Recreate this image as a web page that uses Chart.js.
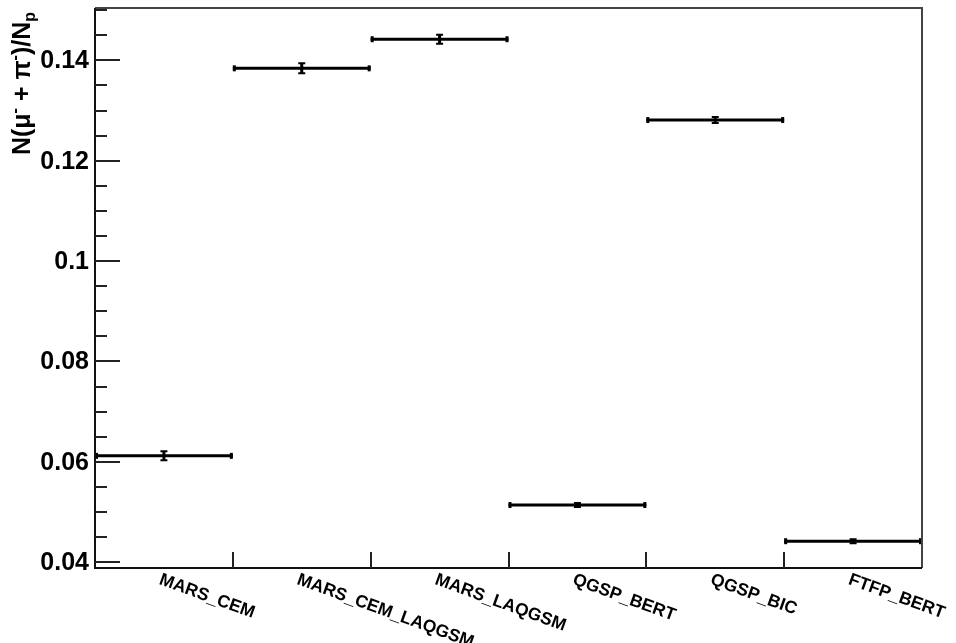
<!DOCTYPE html>
<html>
<head>
<meta charset="utf-8">
<script src="https://cdn.jsdelivr.net/npm/chart.js@4.4.1/dist/chart.umd.min.js"></script>
<style>
html,body{margin:0;padding:0;background:#fff;}
#wrap{width:956px;height:643px;}
</style>
</head>
<body>
<div id="wrap"><canvas id="c" width="956" height="643"></canvas></div>
<script>
const categories = ["MARS_CEM","MARS_CEM_LAQGSM","MARS_LAQGSM","QGSP_BERT","QGSP_BIC","FTFP_BERT"];
const values = [0.0612, 0.1384, 0.1442, 0.0514, 0.1281, 0.0442];
const errors = [0.0007, 0.0008, 0.0007, 0.0002, 0.0004, 0.0002];
const yTickValues = [0.04, 0.06, 0.08, 0.1, 0.12, 0.14];
const yMin = 0.03886, yMax = 0.15042;
const yMinorDivisions = 4;

const FONT = "'Liberation Sans', Arial, Helvetica, sans-serif";

const histPlugin = {
  id: 'hist',
  afterDatasetsDraw(chart) {
    const ctx = chart.ctx;
    const xs = chart.scales.x, ys = chart.scales.y;
    ctx.save();
    ctx.fillStyle = '#000';
    ctx.strokeStyle = '#000';
    values.forEach((v, i) => {
      const x0 = xs.getPixelForValue(i), x1 = xs.getPixelForValue(i + 1);
      const xc = xs.getPixelForValue(i + 0.5);
      const y = ys.getPixelForValue(v);
      ctx.lineWidth = 3;
      ctx.beginPath();
      ctx.moveTo(x0, y); ctx.lineTo(x1, y); ctx.stroke();
      ctx.fillRect(x0, y - 3, 3, 6);
      ctx.fillRect(x1 - 3, y - 3, 3, 6);
      const yl = ys.getPixelForValue(v - errors[i]);
      const yh = ys.getPixelForValue(v + errors[i]);
      ctx.lineWidth = 3;
      ctx.beginPath();
      ctx.moveTo(xc, yh - 1); ctx.lineTo(xc, yl + 1); ctx.stroke();
      ctx.lineWidth = 2;
      ctx.beginPath();
      ctx.moveTo(xc - 3.5, yh - 1); ctx.lineTo(xc + 3.5, yh - 1);
      ctx.moveTo(xc - 3.5, yl + 1); ctx.lineTo(xc + 3.5, yl + 1);
      ctx.stroke();
    });
    ctx.restore();
  },
  afterDraw(chart) {
    const ctx = chart.ctx;
    const xs = chart.scales.x, ys = chart.scales.y;
    const a = chart.chartArea;
    ctx.save();
    // frame
    ctx.lineWidth = 2;
    ctx.strokeStyle = '#444';
    ctx.beginPath();
    ctx.moveTo(a.left, a.top); ctx.lineTo(a.right, a.top); ctx.lineTo(a.right, a.bottom);
    ctx.stroke();
    ctx.strokeStyle = '#111';
    ctx.beginPath();
    ctx.moveTo(a.left, a.top); ctx.lineTo(a.left, a.bottom); ctx.lineTo(a.right, a.bottom);
    ctx.stroke();
    // y ticks (inside) and labels
    ctx.lineWidth = 2;
    ctx.strokeStyle = '#222';
    const step = yTickValues[1] - yTickValues[0];
    const minor = step / yMinorDivisions;
    const start = yTickValues[0] - Math.ceil((yTickValues[0] - yMin) / minor) * minor;
    for (let k = 0; ; k++) {
      const v = start + k * minor;
      if (v > yMax + 1e-9) break;
      if (v < yMin - 1e-9) continue;
      const isMajor = yTickValues.some(t => Math.abs(t - v) < 1e-7);
      const y = Math.round(ys.getPixelForValue(v));
      ctx.beginPath();
      ctx.moveTo(a.left, y);
      ctx.lineTo(a.left + (isMajor ? 25 : 12), y);
      ctx.stroke();
    }
    ctx.fillStyle = '#000';
    ctx.font = "bold 25px " + FONT;
    ctx.textAlign = 'right';
    ctx.textBaseline = 'middle';
    yTickValues.forEach(v => {
      ctx.fillText(String(+v.toFixed(3)), a.left - 6, ys.getPixelForValue(v) + 1);
    });
    // x ticks at bin edges
    for (let i = 1; i < categories.length; i++) {
      const x = Math.round(xs.getPixelForValue(i));
      ctx.beginPath();
      ctx.moveTo(x, a.bottom);
      ctx.lineTo(x, a.bottom - 16);
      ctx.stroke();
    }
    // x category labels, rotated
    ctx.font = "bold 17.5px " + FONT;
    ctx.textAlign = 'left';
    ctx.textBaseline = 'top';
    categories.forEach((c, i) => {
      const xc = xs.getPixelForValue(i + 0.5);
      ctx.save();
      ctx.translate(xc - 1, a.bottom + 3);
      ctx.rotate(20 * Math.PI / 180);
      ctx.fillText(c, 0, 0);
      ctx.restore();
    });
    // y axis title with super/subscripts
    const main = "bold 25px " + FONT, small = "bold 16px " + FONT;
    const segs = [
      {t: 'N(\u03bc', f: main, dy: 0},
      {t: '-', f: small, dy: -10},
      {t: ' + \u03c0', f: main, dy: 0},
      {t: '-', f: small, dy: -10},
      {t: ')/N', f: main, dy: 0},
      {t: 'p', f: small, dy: 5}
    ];
    let total = 0;
    segs.forEach(s => { ctx.font = s.f; s.w = ctx.measureText(s.t).width; total += s.w; });
    ctx.translate(30, 0);
    ctx.rotate(-Math.PI / 2);
    ctx.textBaseline = 'alphabetic';
    ctx.textAlign = 'left';
    let xpos = -12 - total;
    segs.forEach(s => {
      ctx.font = s.f;
      ctx.fillText(s.t, xpos, s.dy);
      xpos += s.w;
    });
    ctx.restore();
  }
};

new Chart(document.getElementById('c'), {
  type: 'scatter',
  data: {
    datasets: [{
      data: values.map((v, i) => ({x: i + 0.5, y: v})),
      pointRadius: 0,
      showLine: false
    }]
  },
  options: {
    responsive: false,
    animation: false,
    events: [],
    layout: {padding: {top: 8, right: 34, bottom: 0, left: 0}},
    plugins: {legend: {display: false}, tooltip: {enabled: false}},
    scales: {
      x: {
        type: 'linear', min: 0, max: categories.length,
        grid: {display: false}, border: {display: false},
        ticks: {display: false},
        afterFit(s) { s.height = 75; }
      },
      y: {
        type: 'linear', min: yMin, max: yMax,
        grid: {display: false, drawTicks: false}, border: {display: false},
        afterBuildTicks(s) { s.ticks = yTickValues.map(v => ({value: v})); },
        ticks: {display: false},
        afterFit(s) { s.width = 95; }
      }
    }
  },
  plugins: [histPlugin]
});
</script>
</body>
</html>
